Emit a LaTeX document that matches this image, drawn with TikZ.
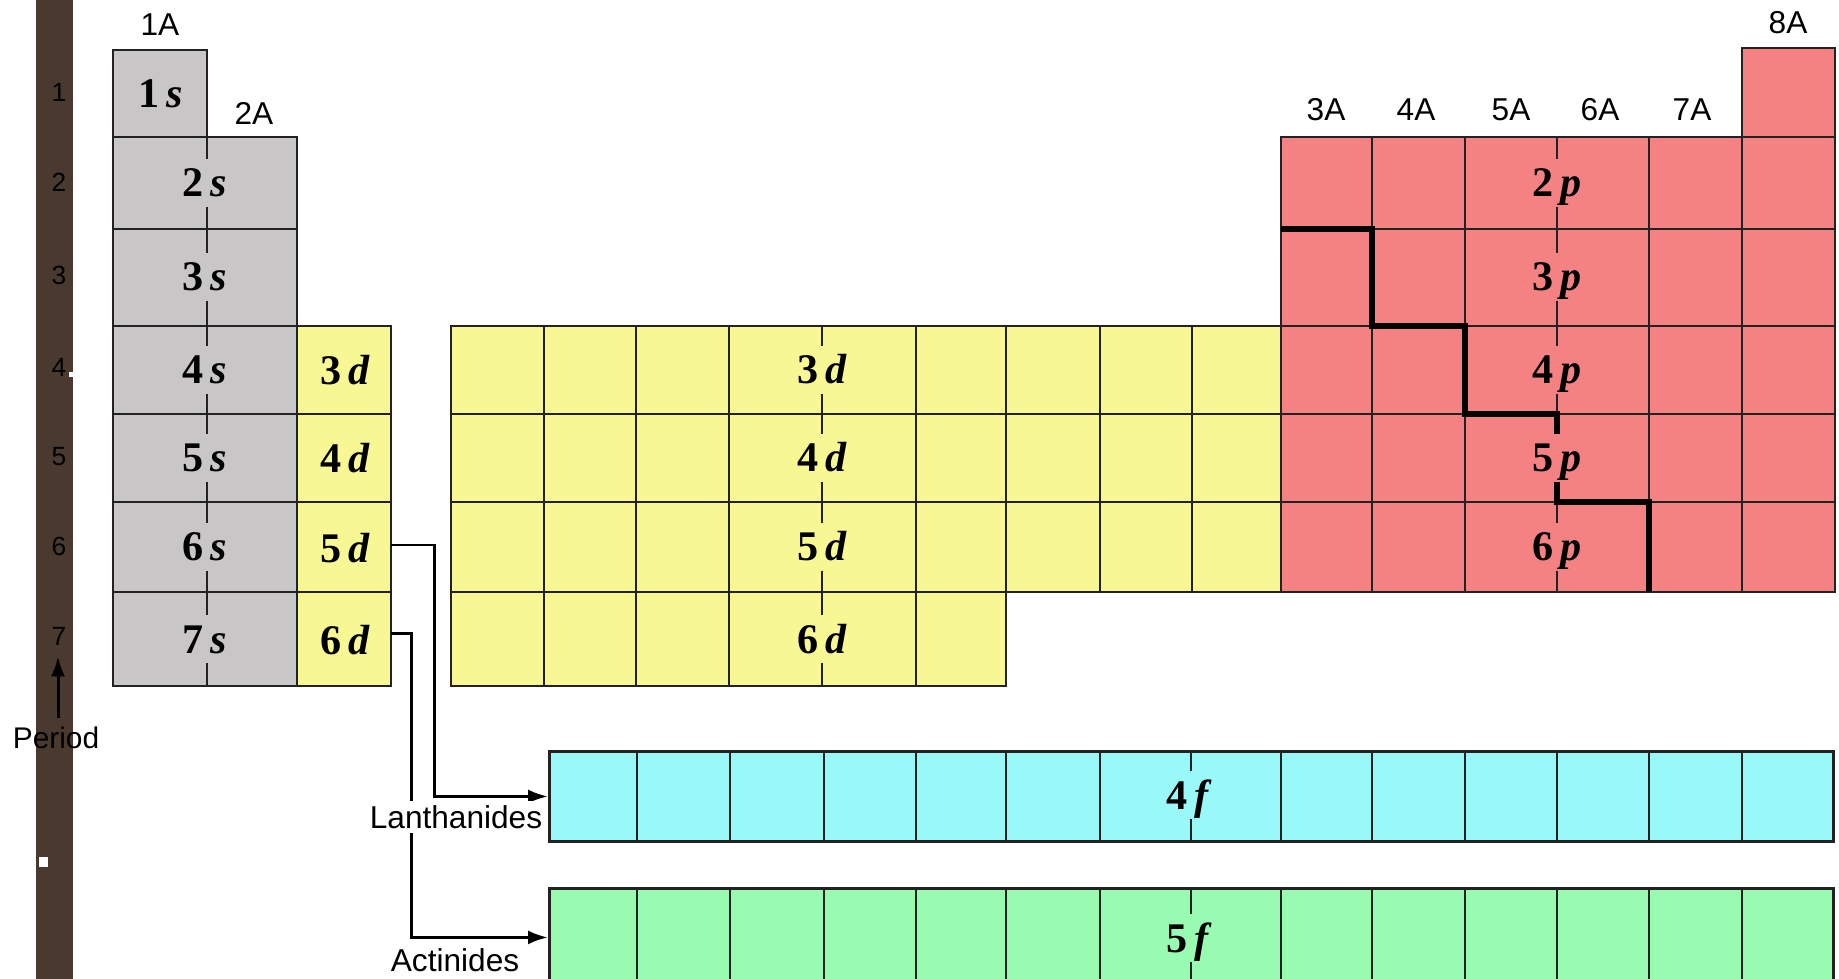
\documentclass[tikz,border=0pt]{standalone}
\usepackage{fontspec}
\setmainfont{Liberation Sans}
\newfontfamily\orbfont{Liberation Serif}
\usetikzlibrary{arrows.meta}

\definecolor{scol}{RGB}{200,198,199}
\definecolor{dcol}{RGB}{247,247,148}
\definecolor{pcol}{RGB}{245,130,130}
\definecolor{lancol}{RGB}{153,248,248}
\definecolor{actcol}{RGB}{153,250,178}
\definecolor{barcol}{RGB}{74,57,46}
\definecolor{linecol}{RGB}{34,34,34}

\tikzset{
  cellline/.style={draw=linecol, line width=0.058cm},
  stair/.style={draw=black, line width=0.12cm},
  conn/.style={draw=black, line width=0.06cm},
  arr/.style={-{Latex[length=0.4cm,width=0.28cm]}},
  group/.style={font=\fontsize{18}{18}\selectfont, inner sep=0pt},
  plabel/.style={font=\fontsize{17}{17}\selectfont, inner sep=0pt},
  sidelabel/.style={font=\fontsize{18}{18}\selectfont, inner sep=0.08cm},
  pnum/.style={font=\fontsize{15}{15}\selectfont, inner sep=0pt},
  orbdig/.style={font=\orbfont\bfseries\fontsize{24}{24}\selectfont, inner sep=0pt, anchor=base east},
  orblet/.style={font=\orbfont\bfseries\itshape\fontsize{24}{24}\selectfont, inner sep=0pt, anchor=base west},
  orbfull/.style={font=\orbfont\bfseries\fontsize{24}{24}\selectfont, inner sep=0pt, anchor=base},
  frow/.style={cellline, anchor=north west, inner sep=0pt, minimum width=25.68cm},
}

% split column line with an orbital label straddling it
\newcommand{\orb}[6]{%
  \draw[cellline] (#1,#2) -- (#1,#4-24);
  \draw[cellline] (#1,#4+24) -- (#1,#3);
  \node[orbdig] (o#5#6#1d) at (#1-3,#4+14) {#5};
  \node[orblet] (o#5#6#1l) at (#1+3,#4+14) {#6};
}

\begin{document}
\begin{tikzpicture}[x=0.02cm,y=-0.02cm]
\useasboundingbox (0,0) rectangle (1839,979);
\clip (0,0) rectangle (1839,979);
\fill[white] (0,0) rectangle (1839,979);

% period bar
\fill[barcol] (36,0) rectangle (73,979);
\fill[white] (39,857) rectangle (48,867);
\fill[white] (69,372) rectangle (74,377);
\foreach \n/\yy in {1/92,2/182,3/275,4/367,5/457,6/546,7/636}
  {\node[pnum] (per\n) at (59,\yy) {\n};}
\node[plabel] (period) at (56,738) {Period};
\coordinate (parrow) at (58,718);
\draw[conn,arr,shorten >=0.22cm] (parrow) -- (parrow |- per7.south);

% group labels
\node[group] (g1) at (160,25) {1A};
\node[group] (g2) at (254,113) {2A};
\node[group] (g3) at (1326,110) {3A};
\node[group] (g4) at (1416,110) {4A};
\node[group] (g5) at (1511,110) {5A};
\node[group] (g6) at (1600,110) {6A};
\node[group] (g7) at (1692,110) {7A};
\node[group] (g8) at (1788,23) {8A};

% s block
\draw[cellline, fill=scol] (113,50) rectangle (207,137);
\node[orbfull] (o1s) at (161,108) {1\,\textit{s}};
\draw[cellline, fill=scol] (113,137) rectangle (297,686);
\foreach \yy in {229,326,414,502,592} {\draw[cellline] (113,\yy) -- (297,\yy);}
\orb{207}{137}{229}{183}{2}{s}
\orb{207}{229}{326}{277}{3}{s}
\orb{207}{326}{414}{370}{4}{s}
\orb{207}{414}{502}{458}{5}{s}
\orb{207}{502}{592}{547}{6}{s}
\orb{207}{592}{686}{639}{7}{s}

% d column next to s block
\draw[cellline, fill=dcol] (297,326) rectangle (391,686);
\foreach \yy in {414,502,592} {\draw[cellline] (297,\yy) -- (391,\yy);}
\node[orbfull] (dc3) at (345,385) {3\,\textit{d}};
\node[orbfull] (dc4) at (345,473) {4\,\textit{d}};
\node[orbfull] (dc5) at (345,562) {5\,\textit{d}};
\node[orbfull] (dc6) at (345,654) {6\,\textit{d}};
\coordinate (c5d) at (391,545);
\coordinate (c6d) at (391,633);

% d main block
\draw[cellline, fill=dcol] (451,326) rectangle (1281,592);
\draw[cellline, fill=dcol] (451,592) rectangle (1006,686);
\foreach \yy in {414,502} {\draw[cellline] (451,\yy) -- (1281,\yy);}
\foreach \xx in {544,636,729,916,1006,1100,1192} {\draw[cellline] (\xx,326) -- (\xx,592);}
\foreach \xx in {544,636,729,916} {\draw[cellline] (\xx,592) -- (\xx,686);}
\orb{822}{326}{414}{370}{3}{d}
\orb{822}{414}{502}{458}{4}{d}
\orb{822}{502}{592}{547}{5}{d}
\orb{822}{592}{686}{639}{6}{d}

% p block
\draw[cellline, fill=pcol] (1742,48) rectangle (1835,137);
\draw[cellline, fill=pcol] (1281,137) rectangle (1835,592);
\foreach \yy in {229,326,414,502} {\draw[cellline] (1281,\yy) -- (1835,\yy);}
\foreach \xx in {1372,1465,1649,1742} {\draw[cellline] (\xx,137) -- (\xx,592);}
\orb{1557}{137}{229}{183}{2}{p}
\orb{1557}{229}{326}{277}{3}{p}
\orb{1557}{326}{414}{370}{4}{p}
\orb{1557}{414}{502}{458}{5}{p}
\orb{1557}{502}{592}{547}{6}{p}
\draw[stair] (1281,229) -- (1372,229) -- (1372,326) -- (1465,326) -- (1465,414) -- (1557,414) -- (1557,434);
\draw[stair] (1557,482) -- (1557,502) -- (1649,502) -- (1649,592);

% f rows
\node[frow, fill=lancol, minimum height=1.8cm] (lan) at (548,750) {};
\node[frow, fill=actcol, minimum height=1.96cm] (act) at (548,887) {};
\foreach \xx in {637,730,824,916,1006,1100,1281,1372,1465,1557,1649,1742}
  {\draw[cellline] (\xx,750) -- (\xx,840); \draw[cellline] (\xx,887) -- (\xx,985);}
\orb{1191}{750}{840}{795}{4}{f}
\orb{1191}{887}{985}{938}{5}{f}

% connectors
\draw[conn,arr] (c5d) -- ++(43,0) |- (lan.west);
\draw[conn,arr] (c6d) -- ++(20,0) |- (act.west);
\node[sidelabel, fill=white] (lanlabel) at (456,817) {Lanthanides};
\node[sidelabel] (actlabel) at (455,960) {Actinides};
\end{tikzpicture}
\end{document}
